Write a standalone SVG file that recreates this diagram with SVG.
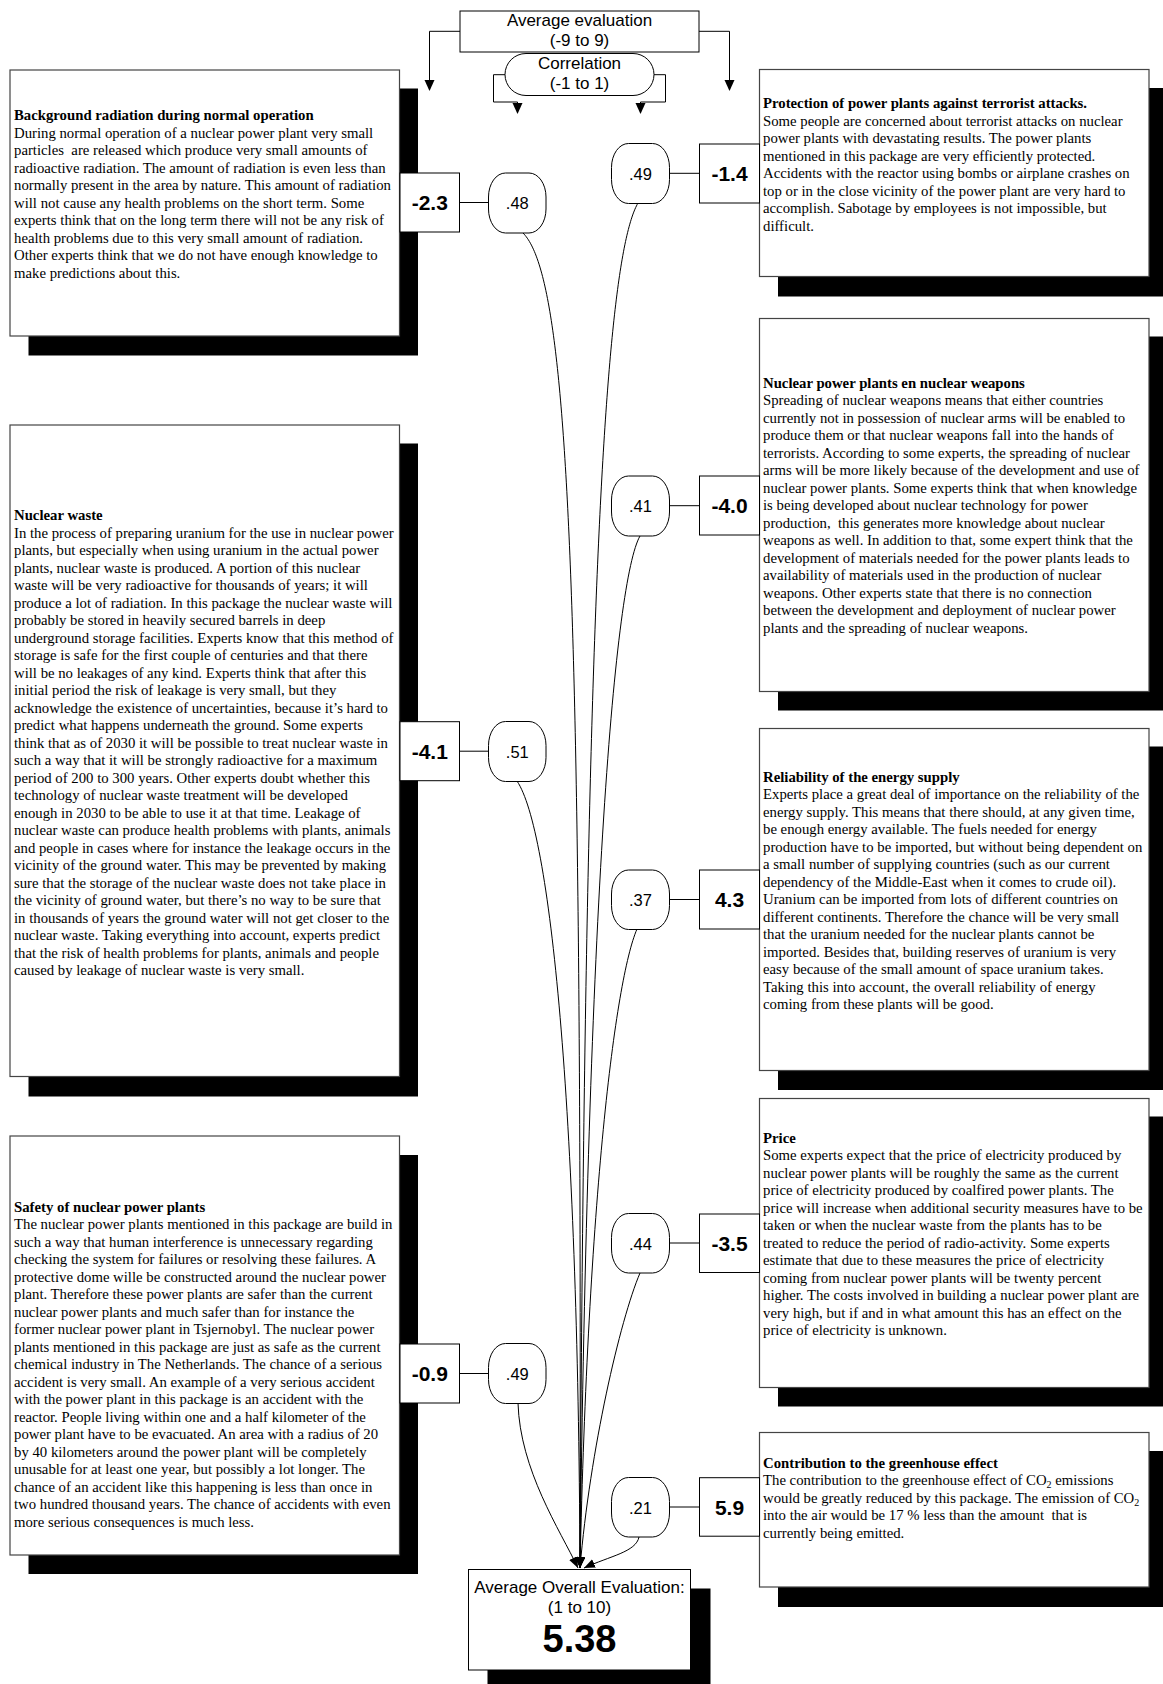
<svg xmlns="http://www.w3.org/2000/svg" width="1163" height="1684" viewBox="0 0 1163 1684">
  <style>
    .shadow { fill: #000; }
    .card { fill: #fff; stroke: #444; stroke-width: 1.2; }
    .val { fill: #fff; stroke: #000; stroke-width: 1; }
    .corr { fill: #fff; stroke: #000; stroke-width: 1; }
    .link { fill: none; stroke: #000; stroke-width: 1; }
    .body { font-family: "Liberation Serif", "Times New Roman", serif; font-size: 14.75px; fill: #000; }
    .title { font-weight: bold; }
    .num { font-family: "Liberation Sans", Arial, sans-serif; font-size: 21px; font-weight: bold; text-anchor: middle; }
    .cnum { font-family: "Liberation Sans", Arial, sans-serif; font-size: 16.5px; text-anchor: middle; }
    .head { font-family: "Liberation Sans", Arial, sans-serif; font-size: 17px; text-anchor: middle; }
    .sub { font-size: 10px; }
  </style>
  <defs>
    <marker id="arrow" markerUnits="userSpaceOnUse" markerWidth="12" markerHeight="10" refX="11" refY="4.5" orient="auto">
      <path d="M0,0 L11,4.5 L0,9 z" fill="#000"/>
    </marker>
  </defs>

  <rect width="1163" height="1684" fill="#fff"/>

  <!-- legend: average evaluation and correlation -->
  <g id="legend-evaluation">
    <rect x="460" y="11" width="239" height="41" class="val"/>
    <text class="head" x="579.5" y="25.5">Average evaluation</text>
    <text class="head" x="579.5" y="45.5">(-9 to 9)</text>
  </g>
  <g id="legend-correlation">
    <rect x="505" y="53.5" width="149" height="42" rx="21" ry="21" class="val"/>
    <text class="head" x="579.5" y="69">Correlation</text>
    <text class="head" x="579.5" y="88.5">(-1 to 1)</text>
  </g>

  <!-- aspect cards, left column -->
  <g id="card-background-radiation">
    <rect x="28.5" y="88.5" width="389.5" height="267" class="shadow"/>
    <rect x="10" y="70" width="389.5" height="266" class="card"/>
    <text class="body" x="14" y="120">
      <tspan x="14" class="title">Background radiation during normal operation</tspan>
      <tspan x="14" dy="17.5">During normal operation of a nuclear power plant very small</tspan>
      <tspan x="14" dy="17.5">particles&#160; are released which produce very small amounts of</tspan>
      <tspan x="14" dy="17.5">radioactive radiation. The amount of radiation is even less than</tspan>
      <tspan x="14" dy="17.5">normally present in the area by nature. This amount of radiation</tspan>
      <tspan x="14" dy="17.5">will not cause any health problems on the short term. Some</tspan>
      <tspan x="14" dy="17.5">experts think that on the long term there will not be any risk of</tspan>
      <tspan x="14" dy="17.5">health problems due to this very small amount of radiation.</tspan>
      <tspan x="14" dy="17.5">Other experts think that we do not have enough knowledge to</tspan>
      <tspan x="14" dy="17.5">make predictions about this.</tspan>
    </text>
  </g>

  <g id="card-nuclear-waste">
    <rect x="28.5" y="443.5" width="389.5" height="653" class="shadow"/>
    <rect x="10" y="425" width="389.5" height="651.5" class="card"/>
    <text class="body" x="14" y="520">
      <tspan x="14" class="title">Nuclear waste</tspan>
      <tspan x="14" dy="17.5">In the process of preparing uranium for the use in nuclear power</tspan>
      <tspan x="14" dy="17.5">plants, but especially when using uranium in the actual power</tspan>
      <tspan x="14" dy="17.5">plants, nuclear waste is produced. A portion of this nuclear</tspan>
      <tspan x="14" dy="17.5">waste will be very radioactive for thousands of years; it will</tspan>
      <tspan x="14" dy="17.5">produce a lot of radiation. In this package the nuclear waste will</tspan>
      <tspan x="14" dy="17.5">probably be stored in heavily secured barrels in deep</tspan>
      <tspan x="14" dy="17.5">underground storage facilities. Experts know that this method of</tspan>
      <tspan x="14" dy="17.5">storage is safe for the first couple of centuries and that there</tspan>
      <tspan x="14" dy="17.5">will be no leakages of any kind. Experts think that after this</tspan>
      <tspan x="14" dy="17.5">initial period the risk of leakage is very small, but they</tspan>
      <tspan x="14" dy="17.5">acknowledge the existence of uncertainties, because it’s hard to</tspan>
      <tspan x="14" dy="17.5">predict what happens underneath the ground. Some experts</tspan>
      <tspan x="14" dy="17.5">think that as of 2030 it will be possible to treat nuclear waste in</tspan>
      <tspan x="14" dy="17.5">such a way that it will be strongly radioactive for a maximum</tspan>
      <tspan x="14" dy="17.5">period of 200 to 300 years. Other experts doubt whether this</tspan>
      <tspan x="14" dy="17.5">technology of nuclear waste treatment will be developed</tspan>
      <tspan x="14" dy="17.5">enough in 2030 to be able to use it at that time. Leakage of</tspan>
      <tspan x="14" dy="17.5">nuclear waste can produce health problems with plants, animals</tspan>
      <tspan x="14" dy="17.5">and people in cases where for instance the leakage occurs in the</tspan>
      <tspan x="14" dy="17.5">vicinity of the ground water. This may be prevented by making</tspan>
      <tspan x="14" dy="17.5">sure that the storage of the nuclear waste does not take place in</tspan>
      <tspan x="14" dy="17.5">the vicinity of ground water, but there’s no way to be sure that</tspan>
      <tspan x="14" dy="17.5">in thousands of years the ground water will not get closer to the</tspan>
      <tspan x="14" dy="17.5">nuclear waste. Taking everything into account, experts predict</tspan>
      <tspan x="14" dy="17.5">that the risk of health problems for plants, animals and people</tspan>
      <tspan x="14" dy="17.5">caused by leakage of nuclear waste is very small.</tspan>
    </text>
  </g>

  <g id="card-safety">
    <rect x="28.5" y="1155" width="389.5" height="419" class="shadow"/>
    <rect x="10" y="1136" width="389.5" height="419" class="card"/>
    <text class="body" x="14" y="1211.5">
      <tspan x="14" class="title">Safety of nuclear power plants</tspan>
      <tspan x="14" dy="17.5">The nuclear power plants mentioned in this package are build in</tspan>
      <tspan x="14" dy="17.5">such a way that human interference is unnecessary regarding</tspan>
      <tspan x="14" dy="17.5">checking the system for failures or resolving these failures. A</tspan>
      <tspan x="14" dy="17.5">protective dome wille be constructed around the nuclear power</tspan>
      <tspan x="14" dy="17.5">plant. Therefore these power plants are safer than the current</tspan>
      <tspan x="14" dy="17.5">nuclear power plants and much safer than for instance the</tspan>
      <tspan x="14" dy="17.5">former nuclear power plant in Tsjernobyl. The nuclear power</tspan>
      <tspan x="14" dy="17.5">plants mentioned in this package are just as safe as the current</tspan>
      <tspan x="14" dy="17.5">chemical industry in The Netherlands. The chance of a serious</tspan>
      <tspan x="14" dy="17.5">accident is very small. An example of a very serious accident</tspan>
      <tspan x="14" dy="17.5">with the power plant in this package is an accident with the</tspan>
      <tspan x="14" dy="17.5">reactor. People living within one and a half kilometer of the</tspan>
      <tspan x="14" dy="17.5">power plant have to be evacuated. An area with a radius of 20</tspan>
      <tspan x="14" dy="17.5">by 40 kilometers around the power plant will be completely</tspan>
      <tspan x="14" dy="17.5">unusable for at least one year, but possibly a lot longer. The</tspan>
      <tspan x="14" dy="17.5">chance of an accident like this happening is less than once in</tspan>
      <tspan x="14" dy="17.5">two hundred thousand years. The chance of accidents with even</tspan>
      <tspan x="14" dy="17.5">more serious consequences is much less.</tspan>
    </text>
  </g>

  <!-- aspect cards, right column -->
  <g id="card-terrorism">
    <rect x="778" y="88" width="390" height="208.5" class="shadow"/>
    <rect x="759.5" y="69.5" width="389.5" height="207" class="card"/>
    <text class="body" x="763" y="108">
      <tspan x="763" class="title">Protection of power plants against terrorist attacks.</tspan>
      <tspan x="763" dy="17.5">Some people are concerned about terrorist attacks on nuclear</tspan>
      <tspan x="763" dy="17.5">power plants with devastating results. The power plants</tspan>
      <tspan x="763" dy="17.5">mentioned in this package are very efficiently protected.</tspan>
      <tspan x="763" dy="17.5">Accidents with the reactor using bombs or airplane crashes on</tspan>
      <tspan x="763" dy="17.5">top or in the close vicinity of the power plant are very hard to</tspan>
      <tspan x="763" dy="17.5">accomplish. Sabotage by employees is not impossible, but</tspan>
      <tspan x="763" dy="17.5">difficult.</tspan>
    </text>
  </g>

  <g id="card-weapons">
    <rect x="778" y="336.5" width="390" height="374" class="shadow"/>
    <rect x="759.5" y="318.5" width="389.5" height="373" class="card"/>
    <text class="body" x="763" y="387.5">
      <tspan x="763" class="title">Nuclear power plants en nuclear weapons</tspan>
      <tspan x="763" dy="17.5">Spreading of nuclear weapons means that either countries</tspan>
      <tspan x="763" dy="17.5">currently not in possession of nuclear arms will be enabled to</tspan>
      <tspan x="763" dy="17.5">produce them or that nuclear weapons fall into the hands of</tspan>
      <tspan x="763" dy="17.5">terrorists. According to some experts, the spreading of nuclear</tspan>
      <tspan x="763" dy="17.5">arms will be more likely because of the development and use of</tspan>
      <tspan x="763" dy="17.5">nuclear power plants. Some experts think that when knowledge</tspan>
      <tspan x="763" dy="17.5">is being developed about nuclear technology for power</tspan>
      <tspan x="763" dy="17.5">production,&#160; this generates more knowledge about nuclear</tspan>
      <tspan x="763" dy="17.5">weapons as well. In addition to that, some expert think that the</tspan>
      <tspan x="763" dy="17.5">development of materials needed for the power plants leads to</tspan>
      <tspan x="763" dy="17.5">availability of materials used in the production of nuclear</tspan>
      <tspan x="763" dy="17.5">weapons. Other experts state that there is no connection</tspan>
      <tspan x="763" dy="17.5">between the development and deployment of nuclear power</tspan>
      <tspan x="763" dy="17.5">plants and the spreading of nuclear weapons.</tspan>
    </text>
  </g>

  <g id="card-reliability">
    <rect x="778" y="746.5" width="390" height="343.5" class="shadow"/>
    <rect x="759.5" y="728.5" width="389.5" height="342" class="card"/>
    <text class="body" x="763" y="781.5">
      <tspan x="763" class="title">Reliability of the energy supply</tspan>
      <tspan x="763" dy="17.5">Experts place a great deal of importance on the reliability of the</tspan>
      <tspan x="763" dy="17.5">energy supply. This means that there should, at any given time,</tspan>
      <tspan x="763" dy="17.5">be enough energy available. The fuels needed for energy</tspan>
      <tspan x="763" dy="17.5">production have to be imported, but without being dependent on</tspan>
      <tspan x="763" dy="17.5">a small number of supplying countries (such as our current</tspan>
      <tspan x="763" dy="17.5">dependency of the Middle-East when it comes to crude oil).</tspan>
      <tspan x="763" dy="17.5">Uranium can be imported from lots of different countries on</tspan>
      <tspan x="763" dy="17.5">different continents. Therefore the chance will be very small</tspan>
      <tspan x="763" dy="17.5">that the uranium needed for the nuclear plants cannot be</tspan>
      <tspan x="763" dy="17.5">imported. Besides that, building reserves of uranium is very</tspan>
      <tspan x="763" dy="17.5">easy because of the small amount of space uranium takes.</tspan>
      <tspan x="763" dy="17.5">Taking this into account, the overall reliability of energy</tspan>
      <tspan x="763" dy="17.5">coming from these plants will be good.</tspan>
    </text>
  </g>

  <g id="card-price">
    <rect x="778" y="1116.5" width="390" height="290" class="shadow"/>
    <rect x="759.5" y="1098.5" width="389.5" height="289" class="card"/>
    <text class="body" x="763" y="1142.5">
      <tspan x="763" class="title">Price</tspan>
      <tspan x="763" dy="17.5">Some experts expect that the price of electricity produced by</tspan>
      <tspan x="763" dy="17.5">nuclear power plants will be roughly the same as the current</tspan>
      <tspan x="763" dy="17.5">price of electricity produced by coalfired power plants. The</tspan>
      <tspan x="763" dy="17.5">price will increase when additional security measures have to be</tspan>
      <tspan x="763" dy="17.5">taken or when the nuclear waste from the plants has to be</tspan>
      <tspan x="763" dy="17.5">treated to reduce the period of radio-activity. Some experts</tspan>
      <tspan x="763" dy="17.5">estimate that due to these measures the price of electricity</tspan>
      <tspan x="763" dy="17.5">coming from nuclear power plants will be twenty percent</tspan>
      <tspan x="763" dy="17.5">higher. The costs involved in building a nuclear power plant are</tspan>
      <tspan x="763" dy="17.5">very high, but if and in what amount this has an effect on the</tspan>
      <tspan x="763" dy="17.5">price of electricity is unknown.</tspan>
    </text>
  </g>

  <g id="card-greenhouse">
    <rect x="778" y="1451" width="390" height="156" class="shadow"/>
    <rect x="759.5" y="1432.5" width="389.5" height="154.5" class="card"/>
    <text class="body" x="763" y="1467.5">
      <tspan x="763" class="title">Contribution to the greenhouse effect</tspan>
      <tspan x="763" dy="17.5">The contribution to the greenhouse effect of CO<tspan class="sub" dy="3">2</tspan><tspan dy="-3"> emissions</tspan></tspan>
      <tspan x="763" dy="17.5">would be greatly reduced by this package. The emission of CO<tspan class="sub" dy="3">2</tspan></tspan>
      <tspan x="763" dy="14.5">into the air would be 17 % less than the amount&#160; that is</tspan>
      <tspan x="763" dy="17.5">currently being emitted.</tspan>
    </text>
  </g>

  <!-- connectors: legend arrows, value-to-correlation links, correlation-to-overall curves -->
  <g id="connectors">
    <polyline class="link" points="460,31.3 429.5,31.3 429.5,81"/>
    <polygon points="424.5,80 434.5,80 429.5,91" fill="#000"/>
    <polyline class="link" points="699,31.3 729.5,31.3 729.5,81"/>
    <polygon points="724.5,80 734.5,80 729.5,91" fill="#000"/>
    <polyline class="link" points="505,74.7 493.5,74.7 493.5,102 517.5,102 517.5,104"/>
    <polygon points="512.5,103 522.5,103 517.5,114" fill="#000"/>
    <polyline class="link" points="654,74.7 665.5,74.7 665.5,102 640.5,102 640.5,104"/>
    <polygon points="635.5,103 645.5,103 640.5,114" fill="#000"/>

    <line class="link" x1="459.5" y1="202.5" x2="488.5" y2="202.5"/>
    <line class="link" x1="669.5" y1="173.3" x2="699.5" y2="173.3"/>
    <line class="link" x1="669.5" y1="505.7" x2="699.5" y2="505.7"/>
    <line class="link" x1="459.5" y1="751.2" x2="488.5" y2="751.2"/>
    <line class="link" x1="669.5" y1="899.5" x2="699.5" y2="899.5"/>
    <line class="link" x1="669.5" y1="1243" x2="699.5" y2="1243"/>
    <line class="link" x1="459.5" y1="1373.5" x2="488.5" y2="1373.5"/>
    <line class="link" x1="669.5" y1="1507" x2="699.5" y2="1507"/>

    <path class="link" marker-end="url(#arrow)" d="M523,233 C570,280 582,600 580,1568"/>
    <path class="link" marker-end="url(#arrow)" d="M638,203 C605,260 585,600 580,1568"/>
    <path class="link" marker-end="url(#arrow)" d="M640,536 C615,580 588,900 580,1568"/>
    <path class="link" marker-end="url(#arrow)" d="M517,781 C550,830 578,1100 580,1568"/>
    <path class="link" marker-end="url(#arrow)" d="M637,929 C615,980 588,1200 580,1568"/>
    <path class="link" marker-end="url(#arrow)" d="M640,1273 C620,1320 590,1450 580,1568"/>
    <path class="link" marker-end="url(#arrow)" d="M518,1403 C520,1470 560,1530 578,1568"/>
    <path class="link" marker-end="url(#arrow)" d="M639,1537 C636,1552 610,1556 584,1568"/>
  </g>

  <!-- value and correlation nodes -->
  <g id="value-background-radiation">
    <rect x="400" y="173" width="59.5" height="59" class="val"/>
    <text class="num" x="429.75" y="210">-2.3</text>
  </g>
  <g id="corr-background-radiation">
    <rect x="488.5" y="173" width="57.5" height="60" rx="17" ry="24" class="corr"/>
    <text class="cnum" x="517.3" y="209">.48</text>
  </g>

  <g id="value-terrorism">
    <rect x="699.5" y="144" width="60" height="59" class="val"/>
    <text class="num" x="729.5" y="181">-1.4</text>
  </g>
  <g id="corr-terrorism">
    <rect x="611.5" y="143.5" width="58" height="60" rx="17" ry="24" class="corr"/>
    <text class="cnum" x="640.5" y="179.5">.49</text>
  </g>

  <g id="value-weapons">
    <rect x="699.5" y="476" width="60" height="59" class="val"/>
    <text class="num" x="729.5" y="513">-4.0</text>
  </g>
  <g id="corr-weapons">
    <rect x="611.5" y="476" width="58" height="60" rx="17" ry="24" class="corr"/>
    <text class="cnum" x="640.5" y="512">.41</text>
  </g>

  <g id="value-nuclear-waste">
    <rect x="400" y="721.7" width="59.5" height="59" class="val"/>
    <text class="num" x="429.75" y="758.7">-4.1</text>
  </g>
  <g id="corr-nuclear-waste">
    <rect x="488.5" y="721.5" width="57.5" height="60" rx="17" ry="24" class="corr"/>
    <text class="cnum" x="517.3" y="757.5">.51</text>
  </g>

  <g id="value-reliability">
    <rect x="699.5" y="870" width="60" height="59" class="val"/>
    <text class="num" x="729.5" y="907">4.3</text>
  </g>
  <g id="corr-reliability">
    <rect x="611.5" y="870" width="58" height="59.5" rx="17" ry="24" class="corr"/>
    <text class="cnum" x="640.5" y="906">.37</text>
  </g>

  <g id="value-price">
    <rect x="699.5" y="1214" width="60" height="58.5" class="val"/>
    <text class="num" x="729.5" y="1250.5">-3.5</text>
  </g>
  <g id="corr-price">
    <rect x="611.5" y="1213.5" width="58" height="59.5" rx="17" ry="24" class="corr"/>
    <text class="cnum" x="640.5" y="1249.5">.44</text>
  </g>

  <g id="value-safety">
    <rect x="400" y="1344" width="59.5" height="59" class="val"/>
    <text class="num" x="429.75" y="1381">-0.9</text>
  </g>
  <g id="corr-safety">
    <rect x="488.5" y="1343.5" width="57.5" height="60" rx="17" ry="24" class="corr"/>
    <text class="cnum" x="517.3" y="1379.5">.49</text>
  </g>

  <g id="value-greenhouse">
    <rect x="699.5" y="1477.7" width="60" height="58.5" class="val"/>
    <text class="num" x="729.5" y="1514.5">5.9</text>
  </g>
  <g id="corr-greenhouse">
    <rect x="611.5" y="1477.5" width="58" height="59.5" rx="17" ry="24" class="corr"/>
    <text class="cnum" x="640.5" y="1513.5">.21</text>
  </g>

  <!-- overall evaluation result -->
  <g id="overall-evaluation">
    <rect x="487.5" y="1588.5" width="223" height="100" class="shadow"/>
    <rect x="468.5" y="1569.5" width="222" height="100.5" class="val"/>
    <text class="head" x="579.5" y="1593">Average Overall Evaluation:</text>
    <text class="head" x="579.5" y="1612.5">(1 to 10)</text>
    <text class="head" x="579.5" y="1652" style="font-size:38px;font-weight:bold">5.38</text>
  </g>
</svg>
